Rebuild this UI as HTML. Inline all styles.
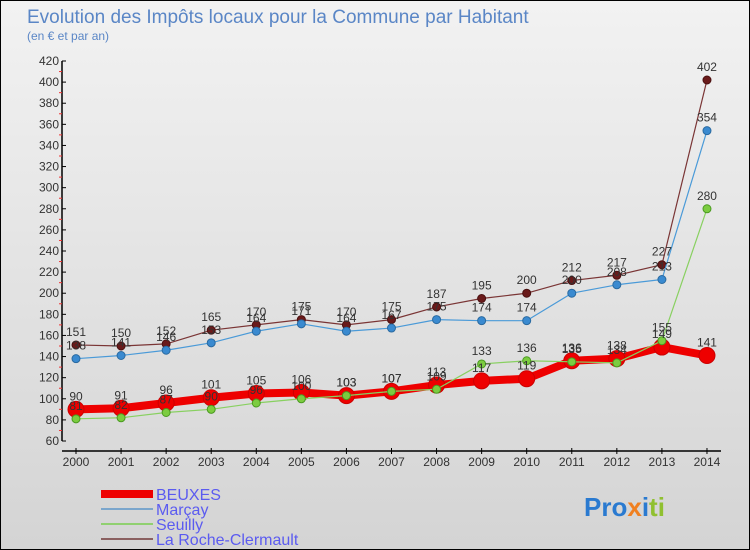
<!DOCTYPE html>
<html><head><meta charset="utf-8"><style>
body{margin:0;}
#wrap{position:relative;width:748px;height:548px;border:1px solid #000;background:linear-gradient(#f2f2f2,#d4d4d4);font-family:"Liberation Sans",sans-serif;overflow:hidden}
</style></head><body>
<div id="wrap">
<svg id="svg" width="748" height="548" xmlns="http://www.w3.org/2000/svg">
<text x="26" y="22" font-size="19" fill="#5a86c6">Evolution des Impôts locaux pour la Commune par Habitant</text>
<text x="26" y="39" font-size="12" fill="#5a86c6">(en € et par an)</text>
<g id="axes"></g><g id="series"></g><g id="labels"></g>
<g font-size="16" fill="#5b5bf0">
<rect x="100" y="489" width="52" height="8" fill="#e00"/>
<text x="155" y="499">BEUXES</text>
<rect x="100" y="507" width="52" height="2" fill="#7ba6cc"/>
<text x="155" y="514">Marçay</text>
<rect x="100" y="522" width="52" height="2" fill="#90d070"/>
<text x="155" y="529">Seuilly</text>
<rect x="100" y="537" width="52" height="2" fill="#8a6060"/>
<text x="155" y="544">La Roche-Clermault</text>
</g>
<text x="583" y="515" font-size="26" font-weight="bold"><tspan fill="#2a7ad0">Pro</tspan><tspan fill="#f08020">x</tspan><tspan fill="#2a7ad0">i</tspan><tspan fill="#90c030">ti</tspan></text>
</svg>
</div>
<script>
const years=["2000","2001","2002","2003","2004","2005","2006","2007","2008","2009","2010","2011","2012","2013","2014"];
const beuxes=[90,91,96,101,105,106,103,107,113,117,119,136,138,149,141];
const marcay=[138,141,146,153,164,171,164,167,175,174,174,200,208,213,354];
const seuilly=[81,82,87,90,96,100,103,107,109,133,136,135,134,155,280];
const laroche=[151,150,152,165,170,175,170,175,187,195,200,212,217,227,402];
const yTicks=[60,80,100,120,140,160,180,200,220,240,260,280,300,320,340,360,380,400,420];
const NS="http://www.w3.org/2000/svg";
const X=i=>75+i*45.07;
const Y=v=>440-(v-60)*(380/360);
function mk(t,a,p){const e=document.createElementNS(NS,t);for(const k in a)e.setAttribute(k,a[k]);p.appendChild(e);return e;}
const ax=document.getElementById('axes');
const yl=mk('line',{x1:61,y1:Y(420),x2:61,y2:440,stroke:'#000','stroke-width':1.5},ax);


const xl=mk('line',{x1:61,y1:450,x2:720,y2:450,stroke:'#000','stroke-width':1.5},ax);


yTicks.forEach((v,i)=>{
 mk('line',{x1:61,y1:Y(v),x2:65,y2:Y(v),stroke:'#000'},ax);
 if(i<yTicks.length-1) mk('line',{x1:58,y1:Y(v+10),x2:61,y2:Y(v+10),stroke:'#e33'},ax);
 const t=mk('text',{x:58,y:Y(v)+4,'font-size':12,'text-anchor':'end',fill:'#333'},ax);
 t.textContent=v;
 
 
});
years.forEach((y,i)=>{
 mk('line',{x1:X(i),y1:447,x2:X(i),y2:453,stroke:'#000'},ax);
 const t=mk('text',{x:X(i),y:465,'font-size':12,'text-anchor':'middle',fill:'#333'},ax);
 t.textContent=y;
 
 
});
const sg=document.getElementById('series'),lg=document.getElementById('labels');
function draw(vals,name,color,dot,w,r,stroke){
 const p=mk('polyline',{points:vals.map((v,i)=>X(i)+','+Y(v)).join(' '),fill:'none',stroke:color,'stroke-width':w,'stroke-linejoin':'round'},sg);
 
 
 vals.forEach((v,i)=>{
  const c=mk('circle',{cx:X(i),cy:Y(v),r:r,fill:dot,stroke:stroke,'stroke-width':1},sg);
  
  
  const t=mk('text',{x:X(i),y:Y(v)-9,'font-size':12,'text-anchor':'middle',fill:'#333'},lg);
  t.textContent=v;
  
  
 });
}
draw(laroche,'la-roche','#7a3535','#6a1a1a',1.2,4,'#4a1010');
draw(marcay,'marcay','#4a9ad8','#3a8ad0',1.2,4,'#2a6aa0');
draw(beuxes,'beuxes','#ee0000','#ee0000',8,8,'#c00');
draw(seuilly,'seuilly','#88d060','#7ccc40',1.2,4,'#4a9a20');
</script>
</body></html>
